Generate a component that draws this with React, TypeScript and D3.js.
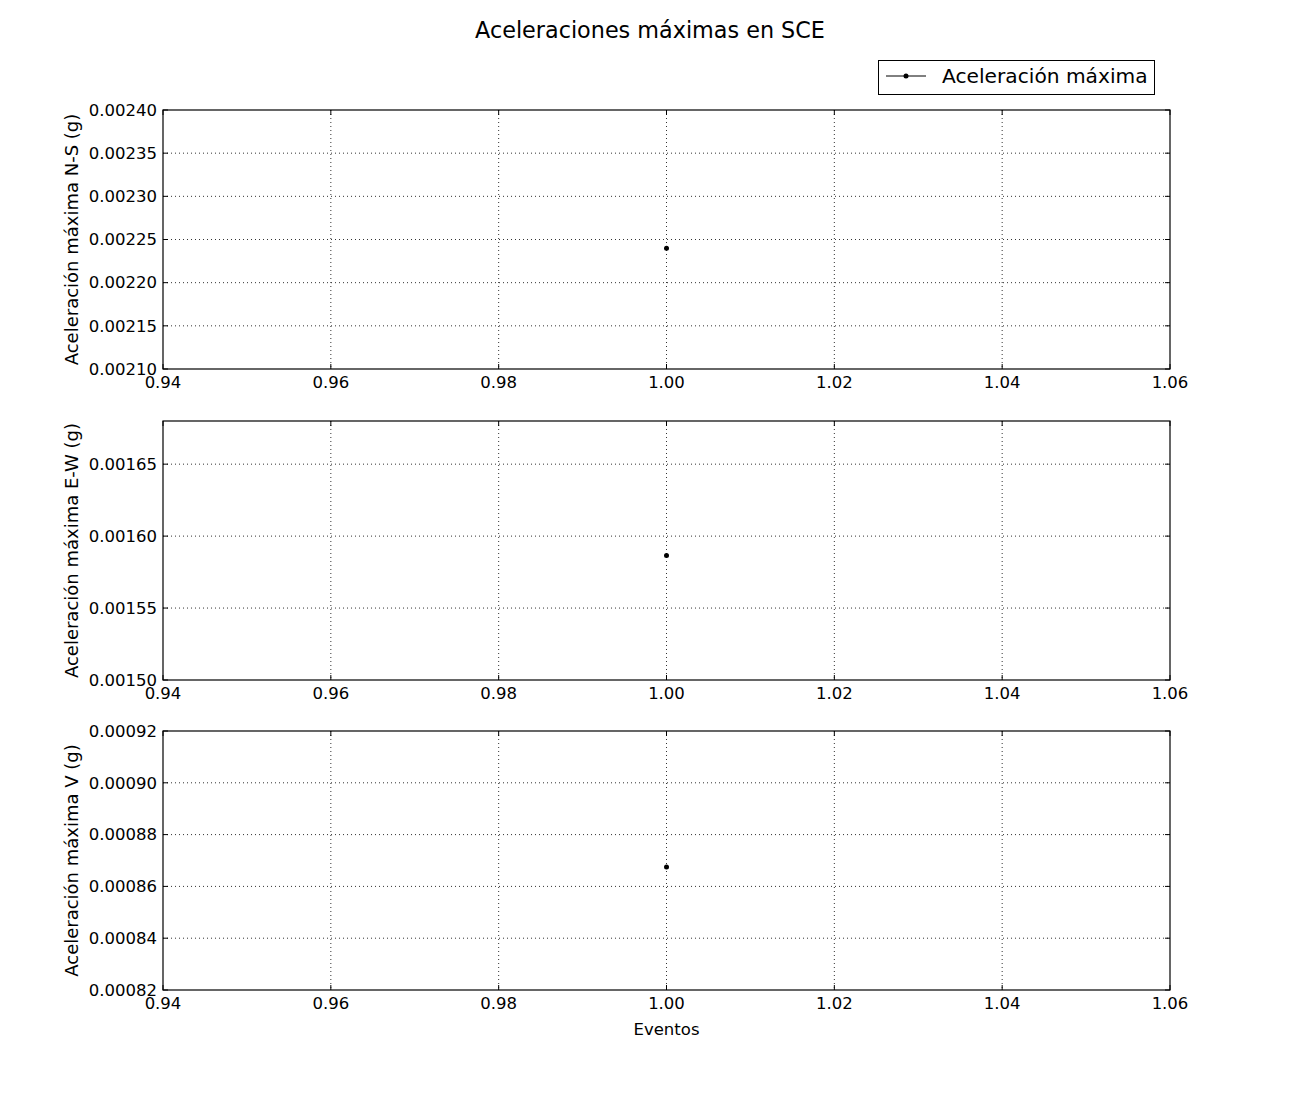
import React, { useEffect, useRef } from 'react';
import * as d3 from 'd3';

const eventos = [1.0];
const accNS = [0.002240];
const accEW = [0.0015865];
const accV = [0.0008675];

const xTicks = [0.94, 0.96, 0.98, 1.0, 1.02, 1.04, 1.06];
const nsTicks = [0.0021, 0.00215, 0.0022, 0.00225, 0.0023, 0.00235, 0.0024];
const ewTicks = [0.0015, 0.00155, 0.0016, 0.00165];
const vTicks = [0.00082, 0.00084, 0.00086, 0.00088, 0.0009, 0.00092];

const panels = [
    { label: 'Aceleración máxima N-S (g)', values: accNS, domain: [0.0021, 0.0024], ticks: nsTicks, top: 110 },
    { label: 'Aceleración máxima E-W (g)', values: accEW, domain: [0.0015, 0.00168], ticks: ewTicks, top: 421 },
    { label: 'Aceleración máxima V (g)', values: accV, domain: [0.00082, 0.00092], ticks: vTicks, top: 731 },
];

const W = 1300;
const H = 1100;
const left = 163;
const right = 1170;
const panelH = 259;
const font = 'DejaVu Sans, sans-serif';

export default function App() {
    const ref = useRef<SVGSVGElement>(null);

    useEffect(() => {
        const svg = d3.select(ref.current);
        svg.selectAll('*').remove();

        svg.append('rect').attr('width', W).attr('height', H).attr('fill', '#fff');

        svg.append('text')
            .attr('x', 650).attr('y', 38)
            .attr('text-anchor', 'middle')
            .style('font-family', font).style('font-size', '22.3px')
            .text('Aceleraciones máximas en SCE');

        const x = d3.scaleLinear().domain([0.94, 1.06]).range([left, right]);

        panels.forEach((p, i) => {
            const y = d3.scaleLinear().domain(p.domain).range([p.top + panelH, p.top]);
            const g = svg.append('g');

            // grid
            g.selectAll('.gx').data(xTicks.slice(1, -1)).enter().append('line')
                .attr('x1', d => x(d)).attr('x2', d => x(d))
                .attr('y1', p.top).attr('y2', p.top + panelH)
                .attr('stroke', '#333').attr('stroke-width', 1).attr('stroke-dasharray', '1,3');
            g.selectAll('.gy').data(p.ticks.filter(t => y(t) > p.top + 0.5 && y(t) < p.top + panelH - 0.5)).enter().append('line')
                .attr('x1', left).attr('x2', right)
                .attr('y1', d => y(d)).attr('y2', d => y(d))
                .attr('stroke', '#333').attr('stroke-width', 1).attr('stroke-dasharray', '1,3');

            // inward ticks
            xTicks.forEach(t => {
                g.append('line').attr('x1', x(t)).attr('x2', x(t))
                    .attr('y1', p.top + panelH).attr('y2', p.top + panelH - 5).attr('stroke', '#000');
                g.append('line').attr('x1', x(t)).attr('x2', x(t))
                    .attr('y1', p.top).attr('y2', p.top + 5).attr('stroke', '#000');
            });
            p.ticks.forEach(t => {
                g.append('line').attr('x1', left).attr('x2', left + 5)
                    .attr('y1', y(t)).attr('y2', y(t)).attr('stroke', '#000');
                g.append('line').attr('x1', right).attr('x2', right - 5)
                    .attr('y1', y(t)).attr('y2', y(t)).attr('stroke', '#000');
            });

            // frame
            g.append('rect')
                .attr('x', left).attr('y', p.top)
                .attr('width', right - left).attr('height', panelH)
                .attr('fill', 'none').attr('stroke', '#000').attr('stroke-width', 1.2);

            // tick labels
            g.selectAll('.xl').data(xTicks).enter().append('text')
                .attr('x', d => x(d)).attr('y', p.top + panelH + 19)
                .attr('text-anchor', 'middle')
                .style('font-family', font).style('font-size', '16.5px')
                .text(d => d.toFixed(2));
            g.selectAll('.yl').data(p.ticks).enter().append('text')
                .attr('x', left - 6).attr('y', d => y(d)).attr('dy', '0.35em')
                .attr('text-anchor', 'end')
                .style('font-family', font).style('font-size', '16.5px')
                .text(d => d.toFixed(5));

            // y label
            g.append('text')
                .attr('transform', `translate(78, ${p.top + panelH / 2}) rotate(-90)`)
                .attr('text-anchor', 'middle')
                .style('font-family', font).style('font-size', '18px')
                .text(p.label);

            // data
            const line = d3.line<number>().x((d, j) => x(eventos[j])).y(d => y(d));
            g.append('path').datum(p.values).attr('d', line)
                .attr('fill', 'none').attr('stroke', '#000');
            g.selectAll('.pt').data(p.values).enter().append('circle')
                .attr('cx', (d, j) => x(eventos[j])).attr('cy', d => y(d))
                .attr('r', 2.5).attr('fill', '#000');

            if (i === 2) {
                g.append('text')
                    .attr('x', (left + right) / 2).attr('y', p.top + panelH + 45)
                    .attr('text-anchor', 'middle')
                    .style('font-family', font).style('font-size', '16.5px')
                    .text('Eventos');
            }
        });

        // legend
        const lg = svg.append('g');
        lg.append('rect').attr('x', 878.5).attr('y', 60.5).attr('width', 276).attr('height', 34)
            .attr('fill', '#fff').attr('stroke', '#000').attr('stroke-width', 1);
        lg.append('line').attr('x1', 886).attr('x2', 926).attr('y1', 76).attr('y2', 76).attr('stroke', '#000');
        lg.append('circle').attr('cx', 906).attr('cy', 76).attr('r', 2.5).attr('fill', '#000');
        lg.append('text').attr('x', 942).attr('y', 83)
            .style('font-family', font).style('font-size', '20.2px')
            .text('Aceleración máxima');
    }, []);

    return (
        <svg ref={ref} width={W} height={H} style={{ position: 'absolute', left: 0, top: 0 }} />
    );
}
